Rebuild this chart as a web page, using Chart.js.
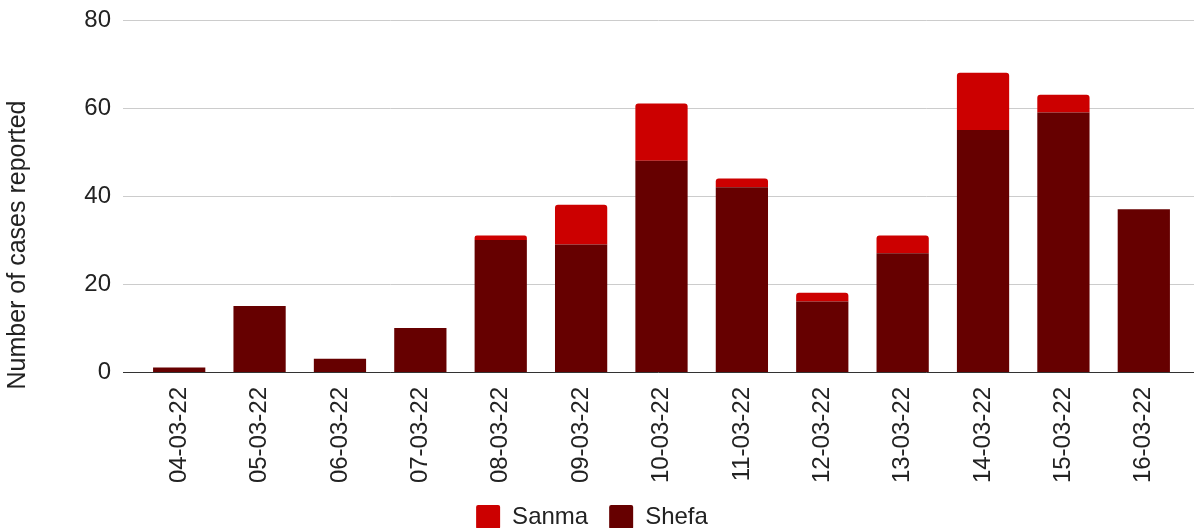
<!DOCTYPE html>
<html>
<head>
<meta charset="utf-8">
<script src="https://cdn.jsdelivr.net/npm/chart.js@4/dist/chart.umd.min.js"></script>
<style>
  html, body { margin: 0; padding: 0; background: #fff; }
  #wrap { width: 1194px; height: 528px; }
</style>
</head>
<body>
<div id="wrap"><canvas id="myChart" width="1194" height="528"></canvas></div>
<script>
const dates = ['04-03-22', '05-03-22', '06-03-22', '07-03-22', '08-03-22', '09-03-22', '10-03-22',
  '11-03-22', '12-03-22', '13-03-22', '14-03-22', '15-03-22', '16-03-22'];
const shefa = [1, 15, 3, 10, 30, 29, 48, 42, 16, 27, 55, 59, 37];
const sanma = [0, 0, 0, 0, 1, 9, 13, 2, 2, 4, 13, 4, 0];
const yTicks = [0, 20, 40, 60, 80];
const yTitle = 'Number of cases reported';

const FONT = "'Liberation Sans', Arial, sans-serif";
const TEXT = '#222';
Chart.defaults.font.family = FONT;
Chart.defaults.color = TEXT;

// grid lines reach past the category area, like the original
const wideGrid = {
  id: 'wideGrid',
  beforeDatasetsDraw(chart) {
    const ctx = chart.ctx, y = chart.scales.y;
    ctx.save();
    ctx.lineWidth = 1;
    ctx.strokeStyle = '#cccccc';
    yTicks.forEach(function (v) {
      const py = Math.round(y.getPixelForValue(v)) + 0.5;
      ctx.beginPath();
      ctx.moveTo(123, py);
      ctx.lineTo(chart.width, py);
      ctx.stroke();
    });
    // axis title, centred lower than the plot like the source
    ctx.fillStyle = TEXT;
    ctx.font = '25px ' + FONT;
    ctx.textAlign = 'center';
    ctx.textBaseline = 'middle';
    ctx.translate(18, 245);
    ctx.rotate(-Math.PI / 2);
    ctx.fillText(yTitle, 0, 0);
    ctx.restore();
  },
  afterDatasetsDraw(chart) {
    const ctx = chart.ctx, y = chart.scales.y;
    const py = Math.round(y.getPixelForValue(0)) + 0.5;
    ctx.save();
    ctx.strokeStyle = '#333';
    ctx.lineWidth = 1;
    ctx.beginPath();
    ctx.moveTo(123, py);
    ctx.lineTo(chart.width, py);
    ctx.stroke();
    ctx.restore();
  }
};

new Chart('myChart', {
  type: 'bar',
  data: {
    labels: dates,
    datasets: [
      {
        label: 'Shefa',
        data: shefa,
        backgroundColor: '#660000',
        barPercentage: 0.65,
        categoryPercentage: 1,
      },
      {
        label: 'Sanma',
        data: sanma,
        backgroundColor: '#cc0000',
        borderRadius: { topLeft: 3, topRight: 3 },
        borderSkipped: 'bottom',
        barPercentage: 0.65,
        categoryPercentage: 1,
      },
    ],
  },
  options: {
    responsive: false,
    animation: false,
    layout: { padding: { top: 20, right: 10, left: 0, bottom: -11 } },
    scales: {
      x: {
        stacked: true,
        grid: { display: false, drawTicks: false },
        border: { display: false },
        ticks: {
          autoSkip: false,
          minRotation: 90,
          maxRotation: 90,
          padding: 15,
          font: { size: 24 },
          color: TEXT,
        },
        afterFit: function (s) { s.height = 112; },
      },
      y: {
        stacked: true,
        min: 0,
        max: 80,
        grid: { display: false, drawTicks: false },
        border: { display: false },
        afterBuildTicks: function (s) { s.ticks = yTicks.map(function (v) { return { value: v }; }); },
        ticks: { padding: 28, font: { size: 24 }, color: TEXT },
        afterFit: function (s) {
          s.width = 139;
          s.paddingTop = 0;
          s.paddingBottom = 0;
        },
      },
    },
    plugins: {
      legend: {
        position: 'bottom',
        reverse: true,
        labels: {
          boxWidth: 24,
          boxHeight: 24,
          padding: 21,
          font: { size: 24 },
          color: TEXT,
          useBorderRadius: true,
          borderRadius: 2,
        },
      },
      tooltip: { enabled: false },
    },
  },
  plugins: [wideGrid],
});
</script>
</body>
</html>
